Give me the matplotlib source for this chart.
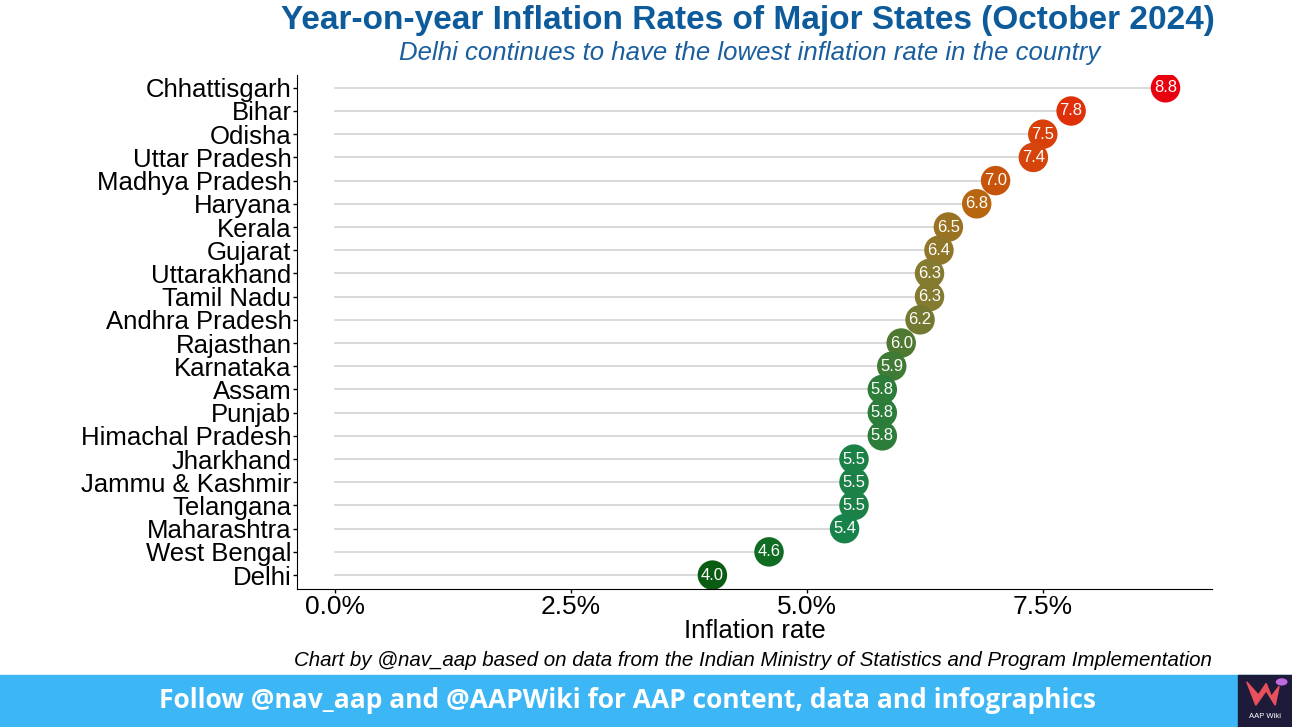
import matplotlib.pyplot as plt
from matplotlib.colors import LinearSegmentedColormap
from matplotlib.patches import Rectangle, Polygon, Circle

plt.rcParams['font.family'] = ['Liberation Sans', 'DejaVu Sans']

# Inflation data, October 2024 (top to bottom as shown)
states = ["Chhattisgarh", "Bihar", "Odisha", "Uttar Pradesh", "Madhya Pradesh", "Haryana",
          "Kerala", "Gujarat", "Uttarakhand", "Tamil Nadu", "Andhra Pradesh", "Rajasthan",
          "Karnataka", "Assam", "Punjab", "Himachal Pradesh", "Jharkhand", "Jammu & Kashmir",
          "Telangana", "Maharashtra", "West Bengal", "Delhi"]
rates = [8.8, 7.8, 7.5, 7.4, 7.0, 6.8, 6.5, 6.4, 6.3, 6.3, 6.2, 6.0,
         5.9, 5.8, 5.8, 5.8, 5.5, 5.5, 5.5, 5.4, 4.6, 4.0]
xticks = [0.0, 2.5, 5.0, 7.5]

# colour ramp green -> olive -> orange -> red
cmap = LinearSegmentedColormap.from_list("infl", [
    (0.00, "#0a5c12"), (0.125, "#0f6c22"), (0.29, "#17824a"), (0.375, "#2e7d3a"),
    (0.42, "#52782f"), (0.48, "#857a30"), (0.58, "#b5680f"), (0.625, "#c8530a"),
    (0.73, "#d8400a"), (0.79, "#e0300a"), (1.00, "#e8000e")])
lo, hi = min(rates), max(rates)

fig = plt.figure(figsize=(12.92, 7.27), dpi=100)
ax = fig.add_axes([0.2299, 0.1898, 0.708, 0.707])

n = len(states)
ypos = list(range(n - 1, -1, -1))

for y, r in zip(ypos, rates):
    ax.plot([0, r], [y, y], color='#d3d3d3', lw=1.2, zorder=1)
for y, r in zip(ypos, rates):
    ax.scatter(r, y, s=450, color=cmap((r - lo) / (hi - lo)), zorder=3, edgecolors='none')
    ax.text(r, y, f"{r:.1f}", color='white', ha='center', va='center', fontsize=12, zorder=4)

ax.set_yticks(ypos)
ax.set_yticklabels(states, fontsize=18.5)
ax.set_xticks(xticks)
ax.set_xticklabels([f"{t:.1f}%" for t in xticks], fontsize=19)
ax.set_xlim(-0.40, 9.29)
ax.set_ylim(-0.6, n - 0.45)
ax.set_xlabel("Inflation rate", fontsize=18.5, labelpad=0)

ax.spines['top'].set_visible(False)
ax.spines['right'].set_visible(False)
ax.tick_params(direction='out', length=3, width=1, pad=1)

# Titles
fig.text(0.579, 0.972, "Year-on-year Inflation Rates of Major States (October 2024)",
         ha='center', va='center', fontsize=24, fontweight='bold', color='#0d5b9b')
fig.text(0.580, 0.927, "Delhi continues to have the lowest inflation rate in the country",
         ha='center', va='center', fontsize=18.5, style='italic', color='#1a5e9e')
fig.text(0.938, 0.092, "Chart by @nav_aap based on data from the Indian Ministry of Statistics and Program Implementation",
         ha='right', va='center', fontsize=14.8, style='italic', color='black')

# Bottom banner
fig.patches.append(Rectangle((0, 0), 1, 0.0715, transform=fig.transFigure, color='#3db6f5', zorder=0))
fig.text(0.486, 0.036, "Follow @nav_aap and @AAPWiki for AAP content, data and infographics",
         ha='center', va='center', fontsize=19, fontweight='bold', color='white', family='Open Sans')

# small logo box
fig.patches.append(Rectangle((0.958, 0.0), 0.042, 0.0715, transform=fig.transFigure, color='#1e1b3a', zorder=1))
fig.patches.append(Polygon([(0.965, 0.062), (0.972, 0.030), (0.980, 0.050), (0.987, 0.030),
                            (0.990, 0.056), (0.984, 0.042), (0.980, 0.060), (0.974, 0.044)],
                           closed=True, transform=fig.transFigure, color='#e8505b', zorder=2))
fig.patches.append(Circle((0.992, 0.062), 0.004, transform=fig.transFigure, color='#c06ae0', zorder=2))
fig.text(0.979, 0.014, "AAP Wiki", ha='center', va='center', fontsize=5.5, color='white')

fig.savefig("out.png", dpi=100)
